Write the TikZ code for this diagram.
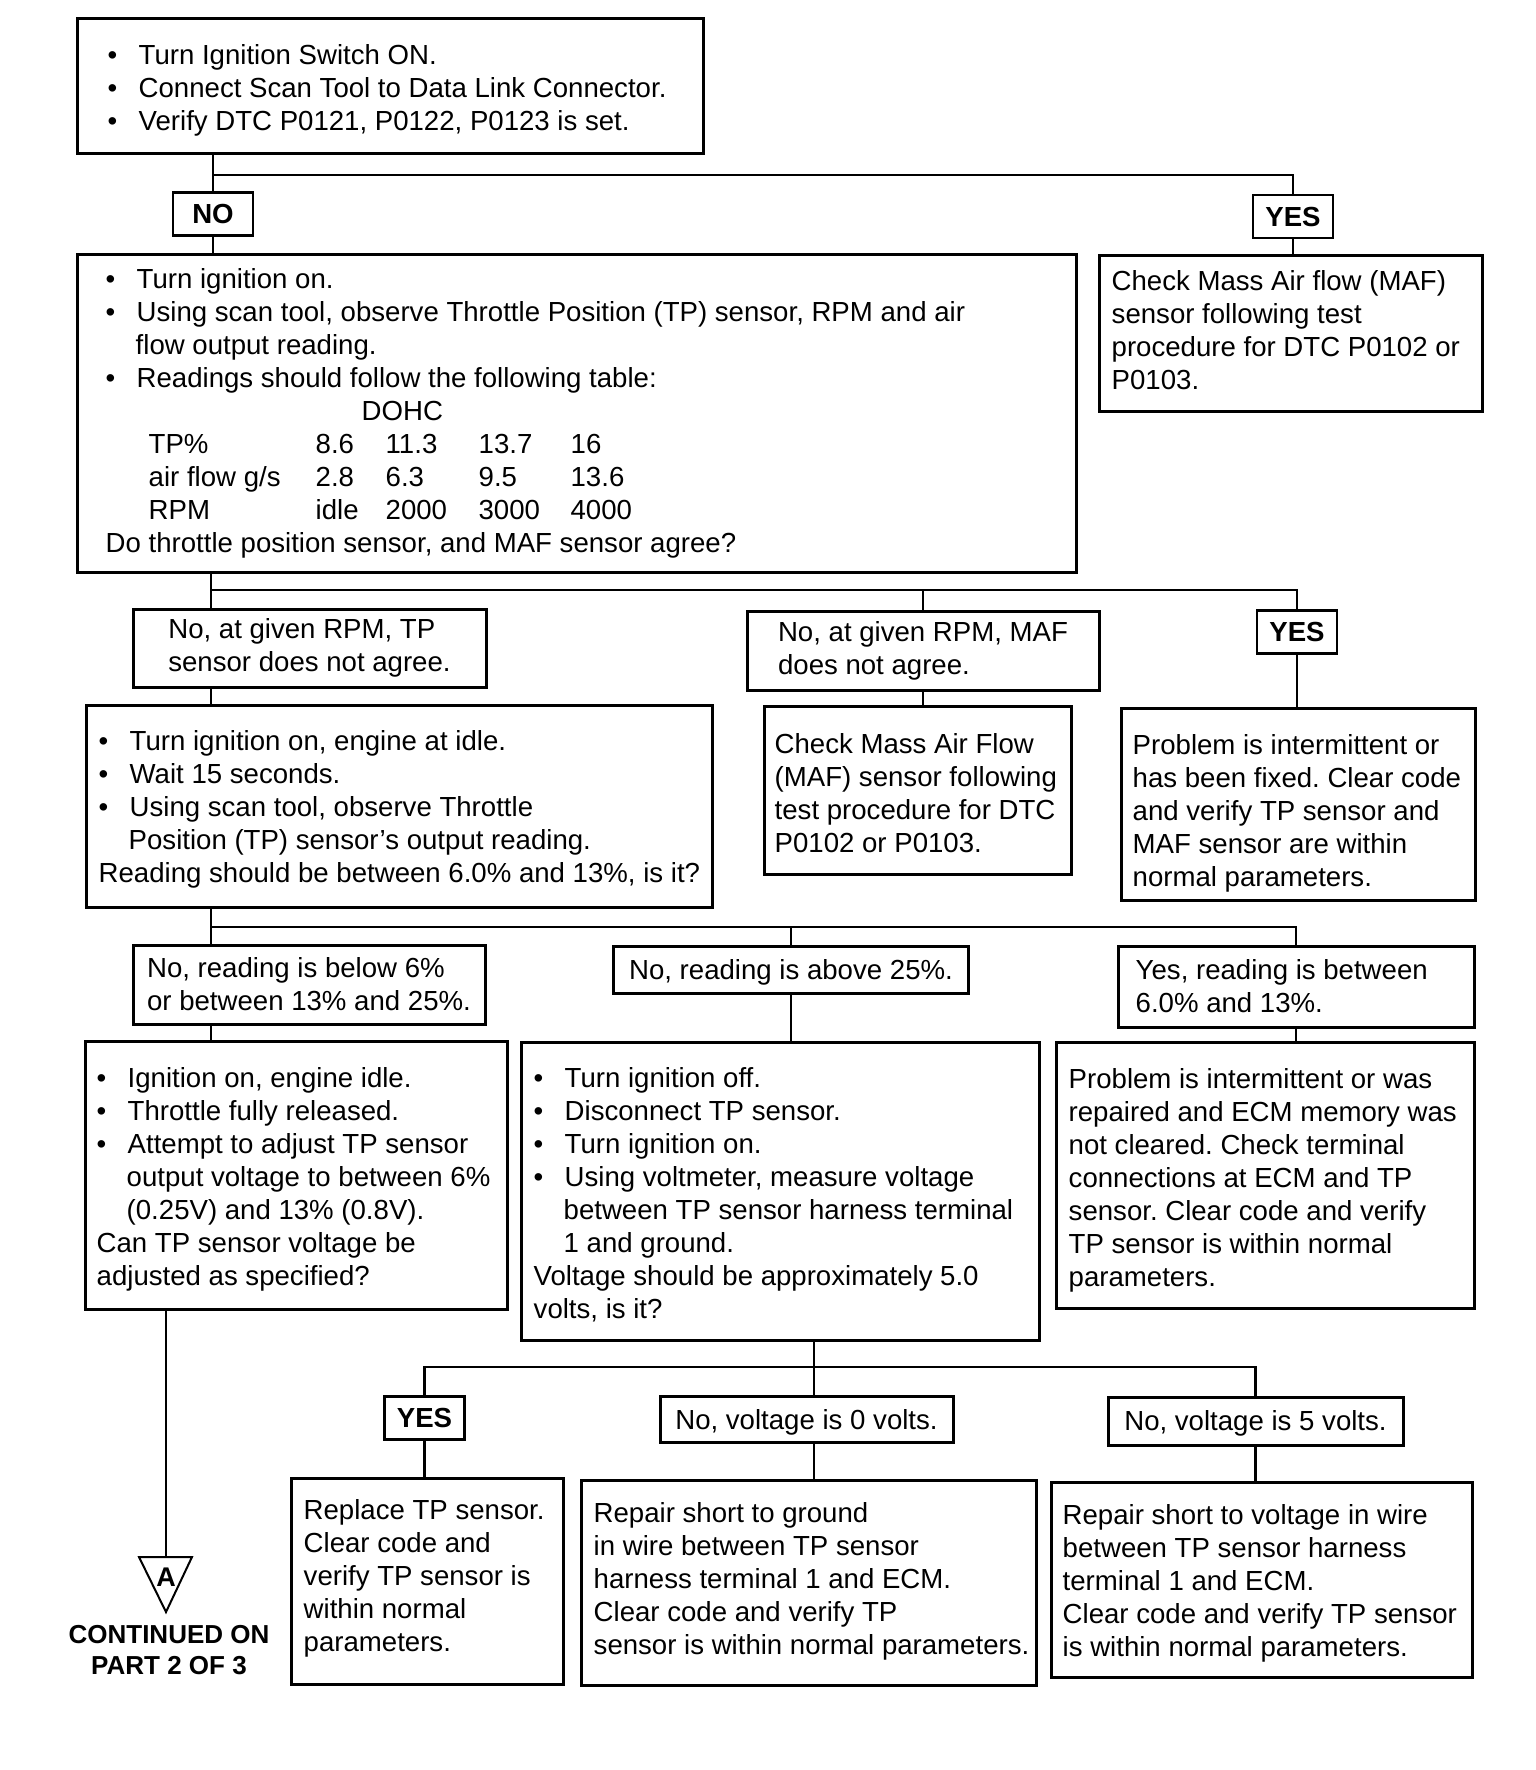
\documentclass[tikz,border=0pt]{standalone}
\usepackage{fontspec}
\setmainfont{Liberation Sans}
\usepackage{tikz}
\usetikzlibrary{positioning}
\frenchspacing
\newcommand\txt{\fontsize{27.6}{33}\selectfont}
\newcommand\bul{\makebox[31pt][l]{\textbullet}}
\newcommand\cont{\hspace*{30pt}}
\newcommand\dohcrow[5]{\hspace*{43pt}\makebox[167pt][l]{#1}\makebox[70pt][l]{#2}\makebox[93pt][l]{#3}\makebox[92pt][l]{#4}#5}
\tikzset{
  stepbox/.style={rectangle,draw,line width=3pt,inner sep=0pt},
  inbox/.style={anchor=west,align=left,inner xsep=14pt,inner ysep=0pt,font=\txt},
  answer/.style={rectangle,draw,line width=3pt,align=left,inner sep=0pt,font=\txt},
  yesno/.style={rectangle,draw,line width=2.6pt,minimum width=80pt,minimum height=43pt,
    inner sep=0pt,font=\bfseries\txt},
  wire/.style={line width=2.8pt}
}
\begin{document}
\begin{tikzpicture}[x=1pt,y=-1pt]
  \useasboundingbox (0,0) rectangle (1536,1770);
  % question boxes
  \node[stepbox,minimum width=626pt,minimum height=135pt] (b1) at (390,85.5) {};
  \node[inbox,inner xsep=32pt] (b1t) at ([yshift=-5pt]b1.west)
    {\bul Turn Ignition Switch ON.\\ \bul Connect Scan Tool to Data Link Connector.\\
     \bul Verify DTC P0121, P0122, P0123 is set.};
  \node[yesno] (no1) at (213,214) {NO};
  \node[yesno] (yes1) at (1293,216.5) {YES};
  \node[stepbox,minimum width=999pt,minimum height=318pt] (b2) at (576.5,413) {};
  \node[inbox,inner xsep=30pt] (b2t) at (b2.west)
    {\bul Turn ignition on.\\
     \bul Using scan tool, observe Throttle Position (TP) sensor, RPM and air\\
     \cont flow output reading.\\
     \bul Readings should follow the following table:\\
     \hspace*{256pt}DOHC\\
     \dohcrow{TP\%}{8.6}{11.3}{13.7}{16}\\
     \dohcrow{air flow g/s}{2.8}{6.3}{9.5}{13.6}\\
     \dohcrow{RPM}{idle}{2000}{3000}{4000}\\
     Do throttle position sensor, and MAF sensor agree?};
  \node[stepbox,minimum width=383pt,minimum height=156pt] (b3) at (1290.5,333) {};
  \node[inbox] (b3t) at ([yshift=3pt]b3.west)
    {Check Mass Air flow (MAF)\\ sensor following test\\ procedure for DTC P0102 or\\ P0103.};
  \node[answer,minimum width=353pt,minimum height=78pt] (l1) at (309.5,648)
    {No, at given RPM, TP\\ sensor does not agree.};
  \node[answer,minimum width=352pt,minimum height=79pt] (l2) at (923,650.5)
    {No, at given RPM, MAF\\ does not agree.};
  \node[yesno] (yes2) at (1297,632) {YES};
  \node[stepbox,minimum width=626pt,minimum height=202pt] (b4) at (399,806) {};
  \node[inbox] (b4t) at ([yshift=-3.5pt]b4.west)
    {\bul Turn ignition on, engine at idle.\\ \bul Wait 15 seconds.\\
     \bul Using scan tool, observe Throttle\\ \cont Position (TP) sensor's output reading.\\
     Reading should be between 6.0\% and 13\%, is it?};
  \node[stepbox,minimum width=307pt,minimum height=168pt] (b5) at (917.5,790) {};
  \node[inbox,inner xsep=12pt] (b5t) at ([yshift=-3.5pt]b5.west)
    {Check Mass Air Flow\\ (MAF) sensor following\\ test procedure for DTC\\ P0102 or P0103.};
  \node[stepbox,minimum width=354pt,minimum height=192pt] (b6) at (1298,804) {};
  \node[inbox,inner xsep=13pt] (b6t) at ([yshift=-9pt]b6.west)
    {Problem is intermittent or\\ has been fixed. Clear code\\ and verify TP sensor and\\
     MAF sensor are within\\ normal parameters.};
  \node[answer,minimum width=352pt,minimum height=79pt] (l3) at (309,984.5)
    {No, reading is below 6\%\\ or between 13\% and 25\%.};
  \node[answer,minimum width=355pt,minimum height=47pt,text height=26pt] (l4) at (791,969.5)
    {No, reading is above 25\%.};
  \node[stepbox,minimum width=356pt,minimum height=81pt] (l5) at (1296,986.5) {};
  \node[inbox,inner xsep=19pt] (l5t) at (l5.west) {Yes, reading is between\\ 6.0\% and 13\%.};
  \node[stepbox,minimum width=422pt,minimum height=268pt] (b7) at (296,1175) {};
  \node[inbox,inner xsep=13pt] (b7t) at ([yshift=-4pt]b7.west)
    {\bul Ignition on, engine idle.\\ \bul Throttle fully released.\\
     \bul Attempt to adjust TP sensor\\ \cont output voltage to between 6\%\\
     \cont (0.25V) and 13\% (0.8V).\\ Can TP sensor voltage be\\ adjusted as specified?};
  \node[stepbox,minimum width=518pt,minimum height=298pt] (b8) at (780,1191) {};
  \node[inbox] (b8t) at ([yshift=-4pt]b8.west)
    {\bul Turn ignition off.\\ \bul Disconnect TP sensor.\\ \bul Turn ignition on.\\
     \bul Using voltmeter, measure voltage\\ \cont between TP sensor harness terminal\\
     \cont 1 and ground.\\ Voltage should be approximately 5.0\\ volts, is it?};
  \node[stepbox,minimum width=418pt,minimum height=266pt] (b9) at (1265,1175) {};
  \node[inbox] (b9t) at ([yshift=-5.5pt]b9.west)
    {Problem is intermittent or was\\ repaired and ECM memory was\\ not cleared. Check terminal\\
     connections at ECM and TP\\ sensor. Clear code and verify\\ TP sensor is within normal\\
     parameters.};
  \node[yesno] (yes3) at (424.5,1418) {YES};
  \node[answer,minimum width=293pt,minimum height=46pt,text height=26pt] (l6) at (806.5,1419)
    {No, voltage is 0 volts.};
  \node[answer,minimum width=295pt,minimum height=48pt,text height=25pt] (l7) at (1255.5,1421)
    {No, voltage is 5 volts.};
  \node[stepbox,minimum width=272pt,minimum height=206pt] (b10) at (427,1581) {};
  \node[inbox] (b10t) at ([yshift=3pt]b10.west)
    {Replace TP sensor.\\ Clear code and\\ verify TP sensor is\\ within normal\\ parameters.};
  \node[stepbox,minimum width=455pt,minimum height=205pt] (b11) at (808.5,1582.5) {};
  \node[inbox] (b11t) at ([yshift=1.5pt]b11.west)
    {Repair short to ground\\ in wire between TP sensor\\ harness terminal 1 and ECM.\\
     Clear code and verify TP\\ sensor is within normal parameters.};
  \node[stepbox,minimum width=421pt,minimum height=195pt] (b12) at (1261.5,1579.5) {};
  \node[inbox,inner xsep=13pt] (b12t) at ([yshift=-3.5pt]b12.west)
    {Repair short to voltage in wire\\ between TP sensor harness\\ terminal 1 and ECM.\\
     Clear code and verify TP sensor\\ is within normal parameters.};
  % off-page mark
  \draw[line width=2pt] (139,1557) -- (192,1557) -- (166,1612) -- cycle;
  \node[font=\bfseries\fontsize{27}{27}\selectfont,inner sep=0pt] (mark) at (166,1577) {A};
  \coordinate (tritop) at (166,1557);
  \node[align=center,font=\bfseries\fontsize{26}{31}\selectfont] (cont) at (169,1650)
    {CONTINUED ON\\ PART 2 OF 3};
  % connectors
  \coordinate (j1) at (213,175);
  \coordinate (j2) at (211,590);
  \coordinate (j3) at (211,927);
  \coordinate (j4) at (814,1367);
  \draw[wire] (b1.south -| j1) -- (no1.north);
  \draw[wire] (j1) -| (yes1.north);
  \draw[wire] (no1.south) -- (b2.north -| no1);
  \draw[wire] (yes1.south) -- (b3.north -| yes1);
  \draw[wire] (b2.south -| j2) -- (l1.north -| j2);
  \draw[wire] (j2) -| (yes2.north);
  \draw[wire] (j2 -| l2) -- (l2.north);
  \draw[wire] (l1.south -| j2) -- (b4.north -| j2);
  \draw[wire] (l2.south) -- (b5.north -| l2);
  \draw[wire] (yes2.south) -- (b6.north -| yes2);
  \draw[wire] (b4.south -| j3) -- (l3.north -| j3);
  \draw[wire] (j3) -| (l5.north);
  \draw[wire] (j3 -| l4) -- (l4.north);
  \draw[wire] (l3.south -| j3) -- (b7.north -| j3);
  \draw[wire] (l4.south) -- (b8.north -| l4);
  \draw[wire] (l5.south) -- (b9.north -| l5);
  \draw[wire] (b7.south -| tritop) -- (tritop);
  \draw[wire] (b8.south -| j4) -- (j4);
  \draw[wire] (yes3.north) |- (j4) -| (l7.north);
  \draw[wire] (j4) -- (l6.north -| j4);
  \draw[wire] (yes3.south) -- (b10.north -| yes3);
  \draw[wire] (l6.south -| j4) -- (b11.north -| j4);
  \draw[wire] (l7.south) -- (b12.north -| l7);
\end{tikzpicture}
\end{document}
